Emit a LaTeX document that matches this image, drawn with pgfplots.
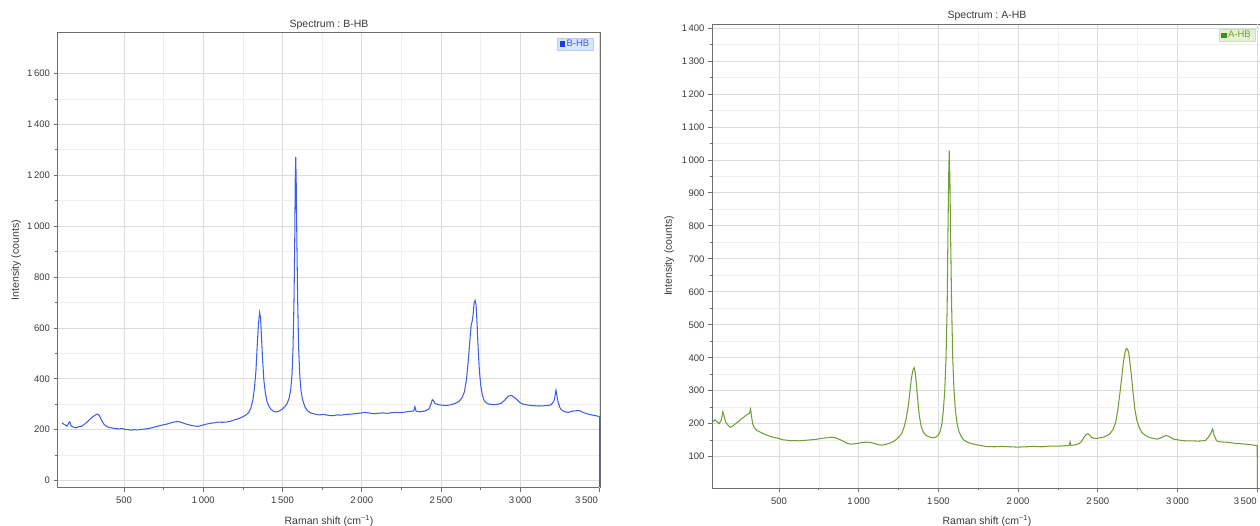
\documentclass[border=0pt]{standalone}
\usepackage{fontspec}
\setmainfont{Liberation Sans}
\usepackage{pgfplots}
\pgfplotsset{compat=1.18}
\definecolor{framegrey}{HTML}{6E6E6E}
\definecolor{labgrey}{HTML}{3A3A3A}
\definecolor{gridmajor}{HTML}{DCDCDC}
\definecolor{gridminor}{HTML}{EFEFEF}
\definecolor{lineB}{HTML}{3F5EE6}
\definecolor{legsqB}{HTML}{1E3CD6}
\definecolor{legfillB}{HTML}{D8E5FF}
\definecolor{lineA}{HTML}{729D33}
\definecolor{legsqA}{HTML}{3F8E1E}
\definecolor{legfillA}{HTML}{E4F1D6}

\pgfplotsset{ramanax/.style={
  scale only axis, anchor=south west,
  axis line style={draw=framegrey, line width=0.9pt},
  tick pos=left, tick align=outside,
  major tick length=4pt, minor tick length=2.5pt,
  tick style={draw=framegrey, line width=0.7pt},
  grid=both,
  major grid style={draw=gridmajor, line width=0.7pt},
  minor grid style={draw=gridminor, line width=0.6pt},
  xtick={500,1000,...,3000}, minor x tick num=1,
  extra x ticks={3500},
  ticklabel style={font=\fontsize{9.5}{10}\selectfont, text=labgrey},
  xticklabel style={yshift=-2pt},
  /pgf/number format/1000 sep={\,},
  /pgf/number format/assume math mode=true,
  label style={font=\fontsize{10.5}{11}\selectfont, text=labgrey},
  title style={font=\fontsize{10.5}{11}\selectfont, text=labgrey, anchor=south, inner sep=0pt, yshift=-3pt},
  xlabel={Raman shift (cm\textsuperscript{−1})},
  ylabel={Intensity (counts)},
  xlabel style={at={(axis description cs:0.5,0)}, anchor=center, yshift=-33pt},
  legend style={at={(1,1)}, anchor=north east, xshift=-7pt, yshift=-5pt,
    inner xsep=2pt, inner ysep=0pt, font=\fontsize{9.5}{10}\selectfont},
  legend image code/.code={\fill[#1] (0pt,-2.3pt) rectangle (4.6pt,2.3pt);},
}}

\begin{document}
\frenchspacing
\begin{tikzpicture}[x=1pt,y=1pt]
\useasboundingbox (0,0) rectangle (1260,526);

% left panel
\begin{axis}[ramanax, at={(57.5pt,38.3pt)}, width=543pt, height=455pt,
  xmin=80, xmax=3506, ymin=-28, ymax=1760,
  ytick={0,200,...,1600}, minor y tick num=1,
  extra x tick style={xticklabel style={xshift=-13pt}},
  title={Spectrum : B-HB},
  ylabel style={at={(axis description cs:-0.076,0.5)}, anchor=center},
  legend style={fill=legfillB, draw=legfillB!80!lineB, text=lineB}]
\addlegendimage{color=legsqB}
\addlegendentry{B-HB}
\addplot[lineB, line width=1.05pt, forget plot] coordinates {
(108,226) (125,220) (140,214) (150,226) (158,231) (166,215) (180,210) (196,207)
(215,212) (234,214) (252,222) (272,233) (290,244) (310,254) (322,259) (332,261)
(342,257) (350,248) (362,232) (375,220) (392,212) (411,208) (430,206) (450,204)
(470,203) (487,205) (505,201) (525,200) (545,198) (563,200) (585,199) (605,201)
(625,202) (645,204) (665,206) (690,210) (715,214) (740,218) (765,221) (791,226)
(815,230) (842,232) (865,228) (892,222) (915,218) (940,215) (968,213) (990,217)
(1019,222) (1045,225) (1070,227) (1095,230) (1120,229) (1145,230) (1171,233) (1195,238)
(1220,243) (1247,250) (1265,256) (1285,266) (1300,285) (1312,315) (1322,360) (1332,430)
(1340,530) (1348,615) (1355,660) (1361,640) (1367,565) (1374,475) (1382,395) (1392,342)
(1402,310) (1414,292) (1427,280) (1442,273) (1457,270) (1472,271) (1487,276) (1502,283)
(1517,292) (1530,305) (1542,325) (1552,360) (1560,420) (1566,520) (1572,700) (1577,950)
(1580,1180) (1583,1272) (1586,1180) (1590,960) (1595,720) (1601,530) (1608,420) (1616,355)
(1626,318) (1641,290) (1656,275) (1676,266) (1700,262) (1730,258) (1760,260) (1790,256)
(1818,255) (1845,258) (1870,257) (1900,260) (1930,261) (1960,263) (1990,265) (2020,268)
(2040,266) (2070,263) (2100,264) (2130,266) (2160,264) (2190,267) (2220,268) (2250,267)
(2280,270) (2310,272) (2328,274) (2335,290) (2342,273) (2360,270) (2386,272) (2405,275)
(2424,282) (2436,300) (2445,318) (2452,314) (2462,303) (2475,300) (2495,297) (2513,296)
(2535,295) (2563,298) (2590,303) (2614,312) (2632,325) (2648,350) (2661,400) (2673,480)
(2683,560) (2690,610) (2696,625) (2702,650) (2709,700) (2715,708) (2721,690) (2727,620)
(2734,520) (2742,430) (2751,370) (2761,335) (2772,315) (2786,305) (2805,300) (2829,298)
(2860,300) (2880,304) (2900,315) (2915,326) (2930,333) (2945,334) (2960,328) (2980,318)
(3000,305) (3018,300) (3045,297) (3070,295) (3094,294) (3120,293) (3150,294) (3171,295)
(3190,297) (3205,305) (3215,318) (3225,355) (3232,330) (3240,305) (3251,285) (3265,275)
(3284,270) (3305,268) (3323,272) (3345,274) (3373,275) (3395,268) (3423,262) (3450,258)
(3475,255) (3495,252) (3500,250) (3501,-25)
};
\end{axis}

% right panel
\begin{axis}[ramanax, at={(712pt,38pt)}, width=550pt, height=464pt,
  xmin=80, xmax=3530, ymin=5, ymax=1412,
  ytick={100,200,...,1400}, minor y tick num=1,
  extra x tick style={xticklabel style={xshift=-12pt}},
  title={Spectrum : A-HB},
  ylabel style={at={(axis description cs:-0.078,0.5)}, anchor=center},
  legend style={fill=legfillA, draw=legfillA!80!lineA, text=lineA}]
\addlegendimage{color=legsqA}
\addlegendentry{A-HB}
\addplot[lineA, line width=1.05pt, forget plot] coordinates {
(85,206) (100,212) (115,204) (125,200) (138,210) (148,236) (155,225) (165,205)
(180,196) (195,189) (210,193) (225,199) (245,206) (262,213) (280,220) (295,226)
(305,228) (315,232) (322,244) (328,222) (335,200) (345,188) (360,180) (380,175)
(400,170) (425,165) (450,161) (475,158) (500,155) (525,151) (550,150) (575,148)
(600,149) (625,148) (650,149) (675,150) (700,151) (725,152) (750,154) (775,156)
(800,157) (825,159) (850,158) (870,154) (890,150) (910,145) (930,140) (950,138)
(975,139) (1000,141) (1025,143) (1050,144) (1075,143) (1100,140) (1125,136) (1150,135)
(1175,138) (1200,142) (1225,148) (1250,158) (1270,170) (1285,190) (1298,215) (1310,250)
(1320,290) (1330,335) (1340,362) (1348,370) (1355,355) (1362,320) (1370,275) (1380,225)
(1392,192) (1405,175) (1420,166) (1437,161) (1455,158) (1470,157) (1487,160) (1500,166)
(1512,178) (1522,200) (1531,240) (1540,300) (1548,400) (1555,550) (1560,780) (1565,960)
(1568,1028) (1572,950) (1577,760) (1583,560) (1590,400) (1598,300) (1607,240) (1617,200)
(1630,175) (1645,160) (1660,150) (1687,143) (1720,138) (1750,135) (1775,133) (1800,131)
(1850,130) (1900,131) (1950,130) (2000,129) (2050,130) (2100,131) (2150,130) (2200,132)
(2250,132) (2290,133) (2320,134) (2326,145) (2332,134) (2360,136) (2385,140) (2400,148)
(2412,158) (2425,166) (2437,170) (2450,164) (2462,158) (2480,155) (2500,156) (2525,158)
(2550,162) (2575,169) (2595,182) (2612,204) (2625,240) (2638,290) (2650,340) (2660,385)
(2670,415) (2678,428) (2686,426) (2694,415) (2702,385) (2712,340) (2722,290) (2732,245)
(2745,210) (2760,188) (2775,174) (2800,164) (2825,158) (2850,155) (2875,153) (2900,158)
(2925,164) (2945,162) (2975,153) (3000,151) (3025,149) (3050,148) (3075,148) (3100,148)
(3125,147) (3150,148) (3175,149) (3195,160) (3210,172) (3220,184) (3230,165) (3245,148)
(3270,145) (3300,144) (3325,143) (3350,141) (3375,140) (3400,139) (3425,138) (3450,137)
(3475,135) (3490,134) (3500,133) (3501,0)
};
\end{axis}
\end{tikzpicture}
\end{document}
